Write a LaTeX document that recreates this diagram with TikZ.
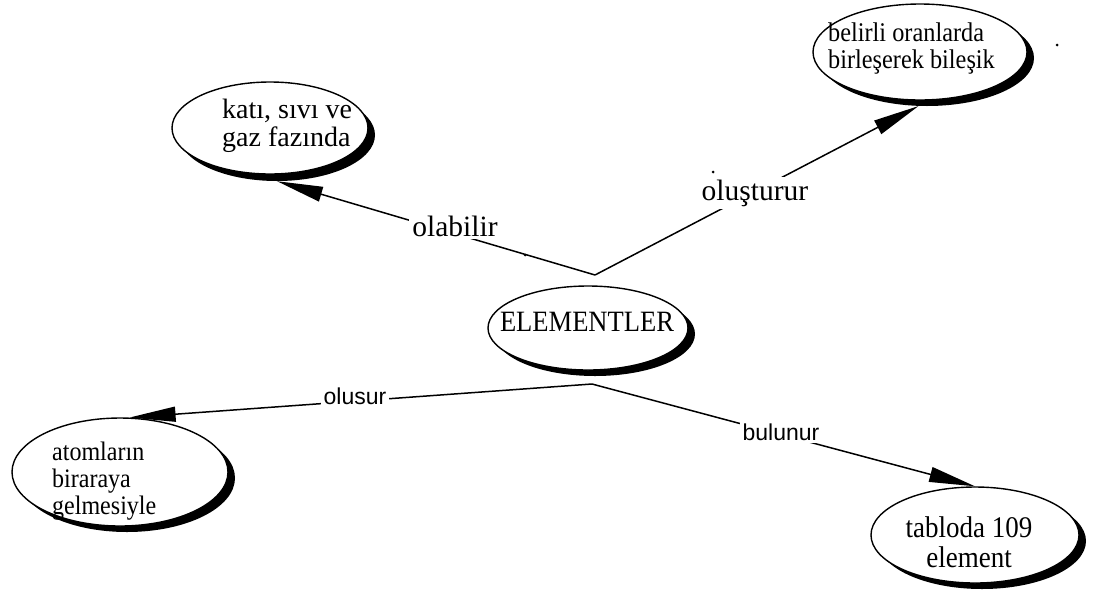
\documentclass[tikz,border=0pt]{standalone}
\usepackage{fontspec}
\setmainfont{Liberation Serif}
\newfontfamily\labelsans{Liberation Sans}
\usetikzlibrary{shapes.geometric,arrows.meta}

\tikzset{
  bubble/.style={ellipse, draw=black, line width=1.4pt, fill=white, inner sep=0pt},
  bubshadow/.style={ellipse, fill=black, inner sep=0pt},
  conceptext/.style={inner sep=0pt, xscale=0.9, transform shape},
  conn/.style={line width=1.5pt, -{Triangle[length=46pt,width=15pt]}},
  serlabel/.style={fill=white, inner sep=3pt, font=\fontsize{29.5}{30}\selectfont},
  sanslabel/.style={fill=white, inner sep=3pt, font=\labelsans\fontsize{23}{24}\selectfont},
  speck/.style={circle, fill=black, inner sep=0pt, minimum size=3pt}
}

\begin{document}
\begin{tikzpicture}[x=1pt,y=-1pt]
\useasboundingbox (0,0) rectangle (1097,595);

% drop shadows
\node[bubshadow, minimum width=196pt, minimum height=92pt] (katiS) at (277,135) {};
\node[bubshadow, minimum width=214pt, minimum height=96pt] (belS)  at (927,58) {};
\node[bubshadow, minimum width=200pt, minimum height=84pt] (elemS) at (595,334) {};
\node[bubshadow, minimum width=216pt, minimum height=108pt] (atomS) at (127,478) {};
\node[bubshadow, minimum width=208pt, minimum height=96pt] (tabS)  at (982,541) {};

% concept ellipses
\node[bubble, minimum width=196pt, minimum height=92pt] (kati) at (270,128) {};
\node[bubble, minimum width=214pt, minimum height=96pt] (bel)  at (920,52) {};
\node[bubble, minimum width=200pt, minimum height=84pt] (elem) at (588,328) {};
\node[bubble, minimum width=216pt, minimum height=108pt] (atom) at (120,472) {};
\node[bubble, minimum width=208pt, minimum height=96pt] (tab)  at (975,535) {};

% concept texts
\node[inner sep=0pt, font=\fontsize{28}{28}\selectfont, align=left, anchor=west] (katiT) at (222,126) {katı, sıvı ve\\gaz fazında};
\node[conceptext, font=\fontsize{27}{27}\selectfont, align=left, anchor=west] (belT)  at (828,49) {belirli oranlarda\\birleşerek bileşik};
\node[conceptext, font=\fontsize{29.5}{27}\selectfont] (elemT) at (587,322) {ELEMENTLER};
\node[conceptext, font=\fontsize{26.7}{27}\selectfont, align=left, anchor=west] (atomT) at (52,481) {atomların\\biraraya\\gelmesiyle};
\node[conceptext, font=\fontsize{30}{30}\selectfont, align=center] (tabT) at (969,542) {tabloda 109\\element};

% branching points above and below the central concept
\coordinate (hubT) at (595,275);
\coordinate (hubB) at (592,384);

% connectors
\draw[conn] (hubT) -- (katiS.south);
\draw[conn] (hubT) -- (belS.-100);
\draw[conn] (hubB) -- (atom.80);
\draw[conn] (hubB) -- (tab.north);

% link labels
\node[serlabel] (l1) at (455,226) {olabilir};
\node[serlabel] (l2) at (755,193) {oluşturur};
\node[sanslabel] (l3) at (355,396) {olusur};
\node[sanslabel] (l4) at (781,432) {bulunur};

% stray specks
\node[speck] (s1) at (1057,45) {};
\node[speck] (s2) at (713,172) {};
\node[speck] (s3) at (525,255) {};
\end{tikzpicture}
\end{document}
